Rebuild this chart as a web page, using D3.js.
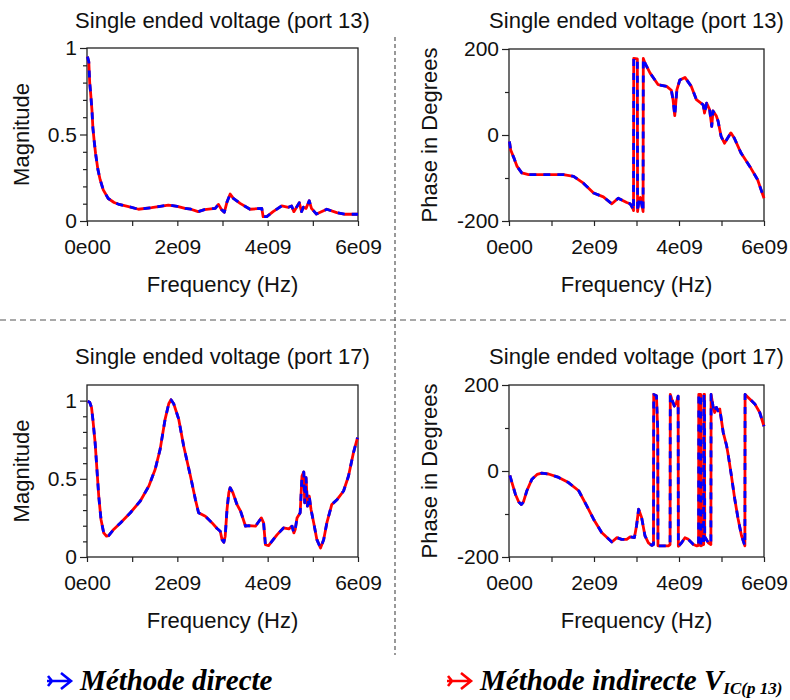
<!DOCTYPE html>
<html>
<head>
<meta charset="utf-8">
<script src="https://cdn.jsdelivr.net/npm/d3@7"></script>
<style>
  html, body { margin: 0; padding: 0; background: #fff; }
  svg { display: block; }
</style>
</head>
<body>
<svg id="chart" width="790" height="700" font-family="Liberation Sans, Arial, sans-serif"></svg>
<script>
// ---------------- DATA ----------------
// frequencies in GHz
const xTickValuesHz = [0, 1e9, 2e9, 3e9, 4e9, 5e9, 6e9];
const xTickLabels = ["0e00", "", "2e09", "", "4e09", "", "6e09"];

const magTicks = [0, 0.1, 0.2, 0.3, 0.4, 0.5, 0.6, 0.7, 0.8, 0.9, 1];
const magLabels = {0: "0", 0.5: "0.5", 1: "1"};
const phaseTicks = [-200, -100, 0, 100, 200];
const phaseLabels = {"-200": "-200", "0": "0", "200": "200"};

const titles = ["Single ended voltage (port 13)", "Single ended voltage (port 13)",
                "Single ended voltage (port 17)", "Single ended voltage (port 17)"];
const yAxisTitles = ["Magnitude", "Phase in Degrees", "Magnitude", "Phase in Degrees"];
const xAxisTitle = "Frequency (Hz)";
const legendLabels = ["Méthode directe", "Méthode indirecte V"];
const legendSub = "IC(p 13)";

const mag13 = [[0.01,0.95],[0.04,0.92],[0.06,0.80],[0.08,0.74],[0.11,0.64],[0.13,0.54],[0.16,0.46],[0.19,0.39],
  [0.24,0.30],[0.29,0.24],[0.36,0.18],[0.47,0.13],[0.6,0.107],[0.69,0.098],[0.92,0.083],[1.14,0.068],[1.43,0.077],
  [1.62,0.085],[1.8,0.092],[2.0,0.085],[2.17,0.073],[2.3,0.068],[2.46,0.054],[2.6,0.066],[2.84,0.073],[2.91,0.096],
  [2.98,0.065],[3.04,0.05],[3.1,0.11],[3.17,0.156],[3.24,0.131],[3.39,0.102],[3.61,0.068],[3.87,0.073],[3.9,0.025],
  [3.98,0.025],[4.12,0.054],[4.31,0.087],[4.46,0.079],[4.53,0.087],[4.58,0.054],[4.7,0.106],[4.75,0.054],[4.79,0.08],
  [4.85,0.073],[4.92,0.117],[4.97,0.073],[5.08,0.04],[5.31,0.068],[5.53,0.048],[5.71,0.039],[6.0,0.039]];

const phase13 = [[0.01,-15],[0.04,-35],[0.11,-52],[0.19,-73],[0.3,-88],[0.46,-92],[0.85,-92],[1.28,-92],[1.52,-96],
  [1.75,-112],[1.99,-135],[2.22,-144],[2.42,-160],[2.57,-147],[2.77,-157],[2.85,-160],[2.91,-170],[2.93,-176],
  [2.935,178],[3.02,177],[3.025,-178],[3.06,-150],[3.09,-145],[3.12,-160],[3.155,-178],[3.16,178],[3.2,167],
  [3.32,144],[3.51,117],[3.71,113],[3.82,104],[3.86,82],[3.9,45],[3.95,105],[4.02,128],[4.14,134],[4.29,113],
  [4.41,82],[4.57,70],[4.6,51],[4.65,74],[4.72,59],[4.77,20],[4.8,56],[4.88,44],[4.92,32],[4.99,-3],[5.07,-19],
  [5.22,5],[5.3,-7],[5.46,-42],[5.69,-77],[5.85,-104],[6.0,-147]];

const mag17 = [[0.015,0.996],[0.06,0.99],[0.1,0.957],[0.13,0.88],[0.18,0.73],[0.22,0.56],[0.26,0.39],[0.31,0.24],
  [0.37,0.154],[0.43,0.133],[0.48,0.137],[0.59,0.176],[0.74,0.218],[0.96,0.283],[1.18,0.358],[1.37,0.454],
  [1.51,0.561],[1.62,0.69],[1.73,0.882],[1.81,0.98],[1.86,1.006],[1.92,0.98],[2.03,0.882],[2.14,0.71],[2.29,0.518],
  [2.4,0.368],[2.47,0.283],[2.62,0.261],[2.77,0.218],[2.88,0.182],[2.95,0.165],[2.99,0.111],[3.03,0.094],[3.06,0.133],
  [3.1,0.304],[3.14,0.411],[3.17,0.443],[3.23,0.411],[3.32,0.336],[3.4,0.293],[3.51,0.197],[3.58,0.2],[3.73,0.197],
  [3.86,0.25],[3.91,0.218],[3.95,0.079],[4.02,0.073],[4.21,0.143],[4.35,0.186],[4.47,0.18],[4.54,0.197],[4.58,0.154],
  [4.61,0.176],[4.65,0.25],[4.72,0.283],[4.76,0.518],[4.8,0.544],[4.82,0.347],[4.85,0.507],[4.88,0.325],[4.92,0.39],
  [4.96,0.304],[5.02,0.218],[5.09,0.111],[5.17,0.058],[5.24,0.111],[5.31,0.218],[5.42,0.336],[5.54,0.368],
  [5.68,0.422],[5.79,0.518],[5.9,0.668],[5.99,0.764]];

const phase17 = [[0.02,-10],[0.07,-27],[0.15,-54],[0.23,-72],[0.29,-78],[0.34,-72],[0.42,-46],[0.54,-19],[0.66,-8],
  [0.77,-5],[0.93,-7],[1.17,-15],[1.4,-27],[1.64,-46],[1.83,-81],[1.99,-112],[2.18,-143],[2.42,-165],[2.54,-155],
  [2.65,-159],[2.77,-159],[2.85,-153],[2.95,-155],[3.0,-128],[3.05,-89],[3.12,-108],[3.2,-151],[3.28,-167],
  [3.36,-173],[3.4,-171],[3.405,178],[3.47,175],[3.5,93],[3.505,-174],[3.59,-174],[3.75,-174],[3.79,-171],
  [3.795,178],[3.83,167],[3.89,151],[3.94,159],[3.98,174],[3.985,-175],[4.06,-167],[4.14,-155],[4.22,-159],
  [4.34,-171],[4.42,-174],[4.46,-173],[4.465,178],[4.51,178],[4.515,-174],[4.57,-171],[4.58,-171],[4.585,178],
  [4.6,178],[4.605,-160],[4.62,-155],[4.69,-167],[4.75,-171],[4.755,178],[4.8,151],[4.84,136],[4.88,148],
  [4.92,140],[4.96,144],[5.04,90],[5.12,59],[5.16,36],[5.23,-9],[5.31,-64],[5.39,-111],[5.47,-150],[5.55,-174],
  [5.555,178],[5.67,167],[5.79,155],[5.9,136],[6.0,104]];

// both methods give (nearly) identical curves
const directSeries = [mag13, phase13, mag17, phase17];
const indirectSeries = [mag13, phase13, mag17, phase17];

// ---------------- LAYOUT ----------------
const panels = [
  {x0: 87, x1: 358, yb: 221, yt: 48, dom: [0, 1], ticks: magTicks, labels: magLabels, ylabX: 22, titleY: 28},
  {x0: 509, x1: 764, yb: 221, yt: 49, dom: [-200, 200], ticks: phaseTicks, labels: phaseLabels, ylabX: 430, titleY: 28},
  {x0: 87, x1: 358, yb: 557, yt: 385, dom: [0, 1.1], ticks: magTicks, labels: magLabels, ylabX: 22, titleY: 364},
  {x0: 509, x1: 764, yb: 557, yt: 385, dom: [-200, 200], ticks: phaseTicks, labels: phaseLabels, ylabX: 430, titleY: 364}
];

const svg = d3.select("#chart");
const FS = 22;
const TICKFS = 21;
const TXT = "#111";

// separators
svg.append("line").attr("x1", 395).attr("x2", 395).attr("y1", 37).attr("y2", 655)
  .attr("stroke", "#555").attr("stroke-width", 1.2).attr("stroke-dasharray", "4,3");
svg.append("line").attr("x1", 0).attr("x2", 790).attr("y1", 320).attr("y2", 320)
  .attr("stroke", "#555").attr("stroke-width", 1.2).attr("stroke-dasharray", "6,4");

panels.forEach((p, i) => {
  const g = svg.append("g");
  const x = d3.scaleLinear().domain([0, 6e9]).range([p.x0, p.x1]);
  const y = d3.scaleLinear().domain(p.dom).range([p.yb, p.yt]);

  // x axis
  const xa = g.append("g").attr("transform", `translate(0,${p.yb})`)
    .call(d3.axisBottom(x).tickValues(xTickValuesHz).tickSize(5).tickPadding(13)
      .tickFormat((d, k) => xTickLabels[k]));
  xa.select(".domain").remove();
  xa.selectAll("line").attr("stroke", "#222").attr("stroke-width", 1.2);
  xa.selectAll("text").attr("font-size", TICKFS).attr("font-family", "Liberation Sans, Arial, sans-serif").attr("fill", TXT);

  // y axis
  const ya = g.append("g").attr("transform", `translate(${p.x0},0)`)
    .call(d3.axisLeft(y).tickValues(p.ticks).tickSize(4).tickPadding(7)
      .tickFormat(d => (p.labels[d] !== undefined ? p.labels[d] : "")));
  ya.select(".domain").remove();
  ya.selectAll("line").attr("stroke", "#222").attr("stroke-width", 1.2)
    .attr("x2", d => (p.labels[d] !== undefined ? -7 : -4));
  ya.selectAll("text").attr("font-size", TICKFS).attr("font-family", "Liberation Sans, Arial, sans-serif").attr("fill", TXT)
    .attr("x", -10);

  // box
  g.append("rect").attr("x", p.x0).attr("y", p.yt).attr("width", p.x1 - p.x0).attr("height", p.yb - p.yt)
    .attr("fill", "none").attr("stroke", "#222").attr("stroke-width", 1.3);

  const line = d3.line().x(d => x(d[0] * 1e9)).y(d => y(d[1]));
  g.append("path").datum(indirectSeries[i]).attr("d", line)
    .attr("fill", "none").attr("stroke", "#ff0000").attr("stroke-width", 2.8).attr("stroke-linejoin", "round");
  g.append("path").datum(directSeries[i]).attr("d", line)
    .attr("fill", "none").attr("stroke", "#0000ff").attr("stroke-width", 2.8)
    .attr("stroke-dasharray", "7,7").attr("stroke-linejoin", "round");

  // titles
  g.append("text").attr("x", (p.x0 + p.x1) / 2).attr("y", p.titleY).attr("text-anchor", "middle")
    .attr("font-size", FS).attr("fill", TXT).text(titles[i]);
  g.append("text").attr("x", (p.x0 + p.x1) / 2).attr("y", p.yb + 71).attr("text-anchor", "middle")
    .attr("font-size", FS).attr("fill", TXT).text(xAxisTitle);
  g.append("text").attr("transform", `translate(${p.ylabX + 7},${(p.yt + p.yb) / 2}) rotate(-90)`)
    .attr("text-anchor", "middle").attr("font-size", FS).attr("fill", TXT).text(yAxisTitles[i]);
});

// legend
const legendColors = ["#0000ff", "#ff0000"];
const legendX = [47, 447];
legendColors.forEach((c, k) => {
  const x0 = legendX[k], cy = 681;
  const lg = svg.append("g");
  lg.append("path")
    .attr("d", `M${x0},${cy}L${x0 + 24},${cy}M${x0 + 14},${cy - 8}L${x0 + 24},${cy}L${x0 + 14},${cy + 8}M${x0 + 1},${cy - 5}L${x0 + 5},${cy}L${x0 + 1},${cy + 5}`)
    .attr("fill", "none").attr("stroke", c).attr("stroke-width", 2.6).attr("stroke-linejoin", "miter");
  const t = lg.append("text").attr("x", x0 + 33).attr("y", 690)
    .attr("font-family", "Liberation Serif, Times New Roman, serif").attr("font-weight", "bold")
    .attr("font-style", "italic").attr("font-size", 29).attr("fill", "#000").text(legendLabels[k]);
  if (k === 1) {
    t.append("tspan").attr("font-size", 17).attr("dy", 4).text(legendSub);
  }
});
</script>
</body>
</html>
